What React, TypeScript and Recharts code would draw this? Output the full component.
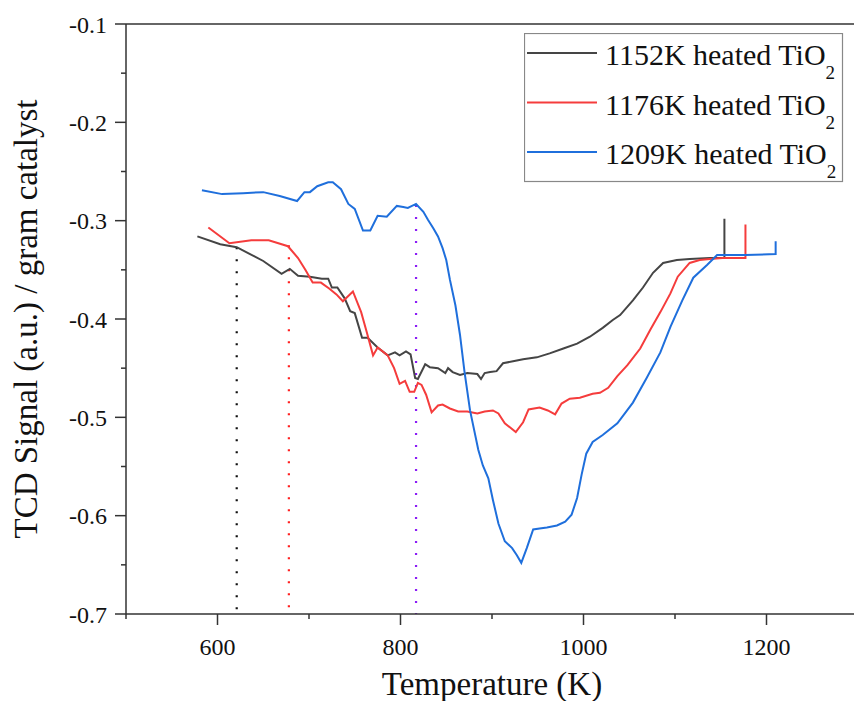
import React from 'react';
import { LineChart, Line, XAxis, YAxis, Legend, ReferenceLine } from 'recharts';

const SERIF = 'Liberation Serif, Times New Roman, Times, DejaVu Serif, Noto Serif, serif';

const X_TICKS = [500, 600, 700, 800, 900, 1000, 1100, 1200, 1300];
const Y_TICKS = [-0.7, -0.65, -0.6, -0.55, -0.5, -0.45, -0.4, -0.35, -0.3, -0.25, -0.2, -0.15, -0.1];

// [temperature K, TCD signal]
const TIO2_1152K: [number, number][] = [
  [578, -0.316], [603, -0.324], [621, -0.327], [650, -0.341], [670, -0.354], [679, -0.349],
  [688, -0.356], [701, -0.357], [714, -0.359], [721, -0.359], [725, -0.368], [731, -0.368],
  [739, -0.379], [745, -0.392], [750, -0.394], [758, -0.419], [764, -0.419], [775, -0.429],
  [786, -0.437], [794, -0.434], [799, -0.437], [806, -0.433], [811, -0.436], [816, -0.46],
  [819, -0.461], [827, -0.446], [832, -0.449], [841, -0.45], [849, -0.455], [852, -0.45],
  [857, -0.454], [865, -0.457], [873, -0.455], [884, -0.456], [888, -0.461], [892, -0.455],
  [898, -0.454], [905, -0.453], [912, -0.445], [923, -0.443], [934, -0.441], [949, -0.439],
  [963, -0.435], [978, -0.43], [993, -0.425], [1007, -0.418], [1021, -0.409], [1032, -0.401],
  [1040, -0.396], [1054, -0.381], [1065, -0.368], [1076, -0.353], [1087, -0.343], [1102, -0.34],
  [1116, -0.339], [1138, -0.338], [1154, -0.338], [1154, -0.298],
];

const TIO2_1176K: [number, number][] = [
  [590, -0.307], [613, -0.323], [637, -0.32], [656, -0.32], [677, -0.326], [688, -0.338],
  [696, -0.35], [704, -0.363], [713, -0.363], [722, -0.369], [730, -0.375], [737, -0.382],
  [748, -0.372], [757, -0.393], [763, -0.413], [770, -0.437], [775, -0.429], [786, -0.437],
  [793, -0.45], [799, -0.466], [805, -0.463], [810, -0.474], [815, -0.474], [819, -0.465],
  [823, -0.467], [828, -0.477], [834, -0.495], [841, -0.488], [846, -0.487], [854, -0.491],
  [863, -0.494], [873, -0.494], [884, -0.496], [892, -0.494], [901, -0.493], [907, -0.496],
  [914, -0.506], [926, -0.515], [934, -0.505], [940, -0.492], [952, -0.49], [961, -0.493],
  [969, -0.497], [976, -0.486], [985, -0.481], [996, -0.48], [1010, -0.476], [1018, -0.475],
  [1027, -0.47], [1037, -0.458], [1048, -0.447], [1062, -0.43], [1073, -0.411], [1084, -0.393],
  [1095, -0.374], [1103, -0.357], [1116, -0.343], [1127, -0.34], [1138, -0.339], [1152, -0.338],
  [1177, -0.338], [1177, -0.304],
];

const TIO2_1209K: [number, number][] = [
  [583, -0.269], [605, -0.273], [628, -0.272], [650, -0.271], [668, -0.275], [687, -0.28],
  [695, -0.271], [701, -0.271], [709, -0.265], [721, -0.261], [726, -0.261], [735, -0.268],
  [743, -0.283], [750, -0.288], [759, -0.31], [767, -0.31], [775, -0.295], [785, -0.296],
  [796, -0.285], [803, -0.286], [808, -0.287], [817, -0.283], [825, -0.291], [830, -0.299],
  [836, -0.308], [841, -0.316], [846, -0.328], [850, -0.34], [854, -0.36], [860, -0.386],
  [865, -0.416], [870, -0.454], [876, -0.493], [885, -0.533], [890, -0.549], [896, -0.562],
  [901, -0.584], [907, -0.608], [914, -0.626], [922, -0.633], [927, -0.64], [932, -0.648],
  [938, -0.633], [945, -0.614], [952, -0.613], [960, -0.612], [971, -0.61], [980, -0.606],
  [987, -0.599], [993, -0.582], [998, -0.558], [1003, -0.537], [1010, -0.525], [1021, -0.518],
  [1037, -0.506], [1054, -0.485], [1069, -0.46], [1084, -0.434], [1095, -0.408], [1108, -0.381],
  [1120, -0.358], [1135, -0.345], [1146, -0.335], [1177, -0.335], [1210, -0.334], [1210, -0.321],
];

// onset markers: [temperature, signal at top of the dotted drop line]
const ONSET_1152K: [number, number][] = [[621, -0.327], [621, -0.7]];
const ONSET_1176K: [number, number][] = [[678, -0.325], [678, -0.7]];
const ONSET_1209K: [number, number][] = [[817, -0.284], [817, -0.7]];

const toPoints = (arr: [number, number][]) => arr.map(([t, v]) => ({ t, v }));

const SERIES = [
  { name: '1152K heated TiO', color: '#454545', data: toPoints(TIO2_1152K) },
  { name: '1176K heated TiO', color: '#f53c3c', data: toPoints(TIO2_1176K) },
  { name: '1209K heated TiO', color: '#1f6fdc', data: toPoints(TIO2_1209K) },
];

const ONSETS = [
  { key: 'o1', color: '#111111', data: toPoints(ONSET_1152K) },
  { key: 'o2', color: '#ff1f1f', data: toPoints(ONSET_1176K) },
  { key: 'o3', color: '#8b1cf5', data: toPoints(ONSET_1209K) },
];

const AXIS = '#333';

const XTick = (props: any) => {
  const { x, y, payload } = props;
  const value = payload.value;
  const major = value % 200 === 0;
  return (
    <g>
      <line x1={x} y1={y} x2={x} y2={y + (major ? 11 : 5)} stroke={AXIS} strokeWidth={1.5} />
      {major && (
        <text x={x} y={y + 41} textAnchor="middle" fontSize={24} style={{ fontFamily: SERIF }} fill="#111">
          {value}
        </text>
      )}
    </g>
  );
};

const YTick = (props: any) => {
  const { x, y, payload } = props;
  const value = payload.value;
  const major = Math.round(Math.abs(value) * 100) % 10 === 0;
  return (
    <g>
      <line x1={x} y1={y} x2={x - (major ? 11 : 5)} y2={y} stroke={AXIS} strokeWidth={1.5} />
      {major && (
        <text x={x - 19} y={y + 8.5} textAnchor="end" fontSize={24} style={{ fontFamily: SERIF }} fill="#111">
          {value.toFixed(1)}
        </text>
      )}
    </g>
  );
};

const LegendBox = () => (
  <svg width={320} height={150} style={{ display: 'block' }}>
    <rect x={0.5} y={0.5} width={318} height={148} fill="#fff" stroke="#888" strokeWidth={1.2} />
    {SERIES.map((s, i) => {
      const cy = 20 + i * 49.5;
      return (
        <g key={s.name}>
          <line x1={3} x2={73} y1={cy} y2={cy} stroke={s.color} strokeWidth={2} />
          <text x={81} y={cy + 12} fontSize={30} style={{ fontFamily: SERIF }} fill="#111">
            {s.name}
            <tspan fontSize={19} dy={14}>2</tspan>
          </text>
        </g>
      );
    })}
  </svg>
);

const App: React.FC = () => {
  return (
    <div
      style={{
        position: 'absolute',
        left: 0,
        top: 0,
        width: 854,
        height: 701,
        overflow: 'hidden',
        background: '#fff',
        fontFamily: SERIF,
      }}
    >
      <LineChart width={880} height={701} margin={{ top: 24, right: 22, left: 66, bottom: 27 }}>
        <XAxis
          dataKey="t"
          type="number"
          domain={[500, 1300]}
          ticks={X_TICKS}
          interval={0}
          allowDataOverflow
          height={60}
          tickSize={0}
          tickMargin={0}
          tickLine={false}
          tick={<XTick />}
          axisLine={{ stroke: AXIS, strokeWidth: 1.5 }}
        />
        <YAxis
          dataKey="v"
          type="number"
          domain={[-0.7, -0.1]}
          ticks={Y_TICKS}
          interval={0}
          allowDataOverflow
          width={60}
          tickSize={0}
          tickMargin={0}
          tickLine={false}
          tick={<YTick />}
          axisLine={{ stroke: AXIS, strokeWidth: 1.5 }}
        />
        <ReferenceLine y={-0.1} stroke={AXIS} strokeWidth={1.5} />
        {ONSETS.map((o) => (
          <Line
            key={o.key}
            data={o.data}
            dataKey="v"
            type="linear"
            stroke={o.color}
            strokeWidth={2.2}
            strokeDasharray="2 10"
            dot={false}
            activeDot={false}
            legendType="none"
            isAnimationActive={false}
          />
        ))}
        {SERIES.map((s) => (
          <Line
            key={s.name}
            name={s.name}
            data={s.data}
            dataKey="v"
            type="linear"
            stroke={s.color}
            strokeWidth={2}
            dot={false}
            activeDot={false}
            isAnimationActive={false}
          />
        ))}
        <Legend
          layout="vertical"
          align="center"
          verticalAlign="middle"
          content={<LegendBox />}
          wrapperStyle={{ left: 524, top: 33, width: 320, height: 150 }}
        />
      </LineChart>
      <svg
        width={854}
        height={701}
        style={{ position: 'absolute', left: 0, top: 0, pointerEvents: 'none' }}
      >
        <text x={492} y={695} textAnchor="middle" fontSize={33} style={{ fontFamily: SERIF }} fill="#111">
          Temperature (K)
        </text>
        <text
          transform="translate(37,319) rotate(-90)"
          textAnchor="middle"
          fontSize={33}
          style={{ fontFamily: SERIF }}
          fill="#111"
        >
          TCD Signal (a.u.) / gram catalyst
        </text>
      </svg>
    </div>
  );
};

export default App;
